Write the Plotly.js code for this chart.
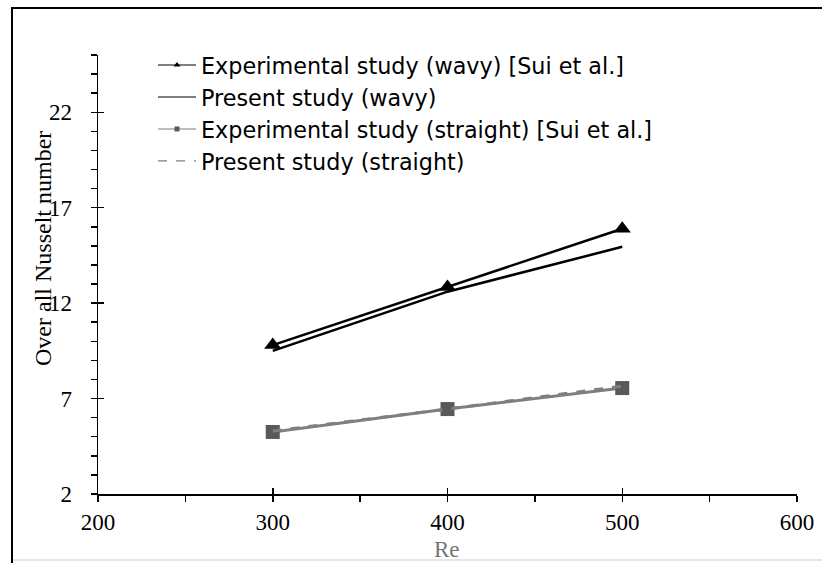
<!DOCTYPE html>
<html>
<head>
<meta charset="utf-8">
<script src="https://cdn.plot.ly/plotly-3.0.1.min.js"></script>
<style>
html,body{margin:0;padding:0;background:#fff;}
#chart{width:822px;height:563px;}
</style>
</head>
<body>
<div id="chart"></div>
<script>
// Data
const reynolds = [300, 400, 500];
const expWavy = [9.8, 12.85, 15.9];
const presentWavy = [9.5, 12.6, 14.95];
const expStraight = [5.25, 6.45, 7.55];
const presentStraight = [5.3, 6.45, 7.65];
const xTicks = [200, 300, 400, 500, 600];
const yTicks = [2, 7, 12, 17, 22];
const seriesNames = [
  'Experimental study (wavy) [Sui et al.]',
  'Present study (wavy)',
  'Experimental study (straight) [Sui et al.]',
  'Present study (straight)'
];

const W = 822, H = 563;
const L = 98, R = 25, T = 55, B = 69;
const pw = W - L - R, ph = H - T - B;
const px2x = p => (p - L) / pw;
const py2y = p => 1 - (p - T) / ph;

const traces = [
  {x: reynolds, y: expWavy, mode: 'lines+markers', showlegend: false,
   line: {color: '#000', width: 2.5}, marker: {symbol: 'triangle-up', size: 15, color: '#000'}},
  {x: reynolds, y: presentWavy, mode: 'lines', showlegend: false,
   line: {color: '#000', width: 2.5}},
  {x: reynolds, y: expStraight, mode: 'lines+markers', showlegend: false,
   line: {color: '#7f7f7f', width: 3}, marker: {symbol: 'square', size: 14, color: '#595959'}},
  {x: reynolds, y: presentStraight, mode: 'lines', showlegend: false,
   line: {color: '#7f7f7f', width: 3, dash: 'dash'}},
  // legend entries
  {x: [null], y: [null], mode: 'lines+markers', name: seriesNames[0], legendgroup: 'a',
   line: {color: '#000', width: 1.2}, marker: {symbol: 'triangle-up', size: 6, color: '#000'}},
  {x: [null], y: [null], mode: 'lines', name: seriesNames[1], legendgroup: 'b',
   line: {color: '#000', width: 1.2}},
  {x: [null], y: [null], mode: 'lines+markers', name: seriesNames[2], legendgroup: 'c',
   line: {color: '#7f7f7f', width: 1.2}, marker: {symbol: 'square', size: 5, color: '#595959'}},
  {x: [null], y: [null], mode: 'lines', name: seriesNames[3], legendgroup: 'd',
   line: {color: '#7f7f7f', width: 1.2, dash: 'dash'}},
  {x: [null], y: [null], xaxis: 'x2', yaxis: 'y2', showlegend: false, hoverinfo: 'skip'}
];

const serif = 'Liberation Serif, Times New Roman, serif';
const layout = {
  width: W, height: H,
  margin: {l: L, r: R, t: T, b: B},
  paper_bgcolor: '#fff', plot_bgcolor: '#fff',
  showlegend: true,
  legend: {
    x: px2x(153), y: py2y(44), xanchor: 'left', yanchor: 'top',
    font: {family: 'DejaVu Sans, sans-serif', size: 22.3, color: '#000'},
    bgcolor: 'rgba(0,0,0,0)', tracegroupgap: 0, itemwidth: 38
  },
  xaxis: {
    range: [200, 600], tickvals: xTicks,
    ticks: 'outside', ticklen: 6, tickwidth: 1.5, tickcolor: '#000',
    minor: {dtick: 50, ticks: 'outside', ticklen: 6, tickwidth: 1.5, tickcolor: '#000'},
    showline: true, linecolor: '#000', linewidth: 1.5, showgrid: false, zeroline: false,
    tickfont: {family: serif, size: 23, color: '#000'}, ticklabelstandoff: 1
  },
  yaxis: {
    range: [2, 25], tickvals: yTicks,
    ticks: 'outside', ticklen: 6, tickwidth: 1.5, tickcolor: '#000',
    minor: {dtick: 1, tick0: 2, ticks: 'outside', ticklen: 6, tickwidth: 1.5, tickcolor: '#000'},
    showline: true, linecolor: '#000', linewidth: 1.5, showgrid: false, zeroline: false,
    tickfont: {family: serif, size: 23, color: '#000'}, ticklabelstandoff: 14
  },
  xaxis2: {
    overlaying: 'x', range: [200, 600], tickvals: xTicks, anchor: 'y',
    side: 'bottom', ticks: 'inside', ticklen: 6, tickwidth: 1.5, tickcolor: '#000',
    showticklabels: false, showgrid: false, zeroline: false, showline: false
  },
  yaxis2: {
    overlaying: 'y', range: [2, 25], tickvals: yTicks, anchor: 'x',
    side: 'left', ticks: 'inside', ticklen: 6, tickwidth: 1.5, tickcolor: '#000',
    showticklabels: false, showgrid: false, zeroline: false, showline: false
  },
  annotations: [
    {text: 'Over all Nusselt number', xref: 'paper', yref: 'paper', x: px2x(43), y: py2y(249),
     xanchor: 'center', yanchor: 'middle', textangle: -90, showarrow: false,
     font: {family: serif, size: 24, color: '#000'}},
    {text: 'Re', xref: 'paper', yref: 'paper', x: px2x(447), y: py2y(549),
     xanchor: 'center', yanchor: 'middle', showarrow: false,
     font: {family: serif, size: 23, color: '#767676'}}
  ],
  shapes: [
    {type: 'line', xref: 'paper', yref: 'paper', x0: px2x(12), x1: px2x(830), y0: py2y(8), y1: py2y(8),
     line: {color: '#000', width: 2}},
    {type: 'line', xref: 'paper', yref: 'paper', x0: px2x(12), x1: px2x(12), y0: py2y(7), y1: py2y(570),
     line: {color: '#000', width: 2}},
    {type: 'line', xref: 'paper', yref: 'paper', x0: px2x(13), x1: px2x(830), y0: py2y(560), y1: py2y(560),
     line: {color: '#e6e6e6', width: 2}}
  ]
};

Plotly.newPlot('chart', traces, layout, {displayModeBar: false, staticPlot: true});
</script>
</body>
</html>
